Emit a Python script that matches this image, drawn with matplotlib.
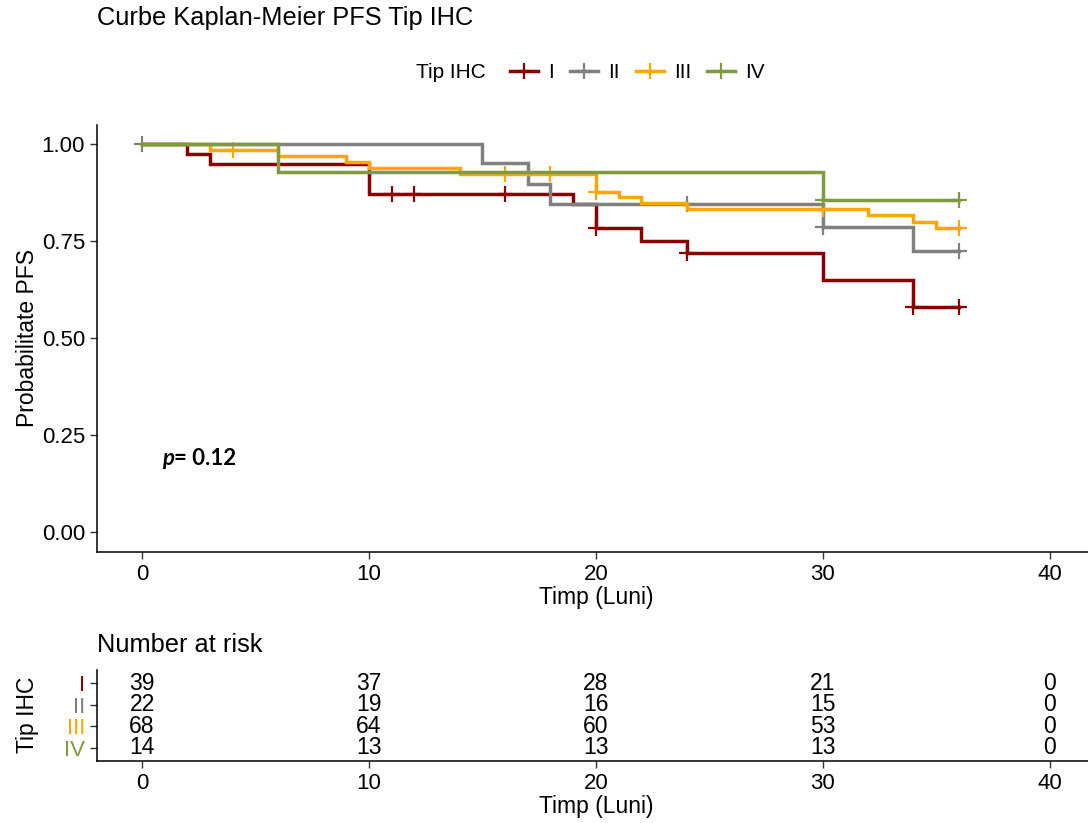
import matplotlib
matplotlib.use('Agg')
import matplotlib.pyplot as plt
import numpy as np
from matplotlib.lines import Line2D

plt.rcParams['font.family'] = ['Liberation Sans', 'DejaVu Sans']

# Data
# ----------------------------------------------------------------------------

groups = ['I', 'II', 'III', 'IV']
colors = ['#8B0000', '#808080', '#FFA500', '#7F9A3F']

times_i = [0, 2, 3, 10, 19, 20, 22, 24, 30, 34, 36]
surv_i = [1.0, 0.974, 0.949, 0.872, 0.845, 0.784, 0.750, 0.719, 0.649, 0.580, 0.580]
cens_i = [11, 12, 16, 20, 24, 34, 36]

times_ii = [0, 15, 17, 18, 30, 34, 36]
surv_ii = [1.0, 0.952, 0.897, 0.845, 0.786, 0.726, 0.726]
cens_ii = [0, 24, 30, 36]

times_iii = [0, 3, 6, 9, 10, 14, 20, 21, 22, 24, 32, 34, 35, 36]
surv_iii = [1.0, 0.985, 0.971, 0.955, 0.940, 0.924, 0.878, 0.865, 0.849, 0.833,
            0.818, 0.801, 0.784, 0.784]
cens_iii = [4, 16, 18, 20, 30, 36]

times_iv = [0, 6, 30, 36]
surv_iv = [1.0, 0.929, 0.857, 0.857]
cens_iv = [30, 36]

# number at risk
risk_times = [0, 10, 20, 30, 40]
risk_i = [39, 37, 28, 21, 0]
risk_ii = [22, 19, 16, 15, 0]
risk_iii = [68, 64, 60, 53, 0]
risk_iv = [14, 13, 13, 13, 0]

p_value = 0.12

curves = [(times_i, surv_i, cens_i), (times_ii, surv_ii, cens_ii),
          (times_iii, surv_iii, cens_iii), (times_iv, surv_iv, cens_iv)]
risks = [risk_i, risk_ii, risk_iii, risk_iv]

# Plot
# ----------------------------------------------------------------------------

W, H = 1088, 823
fig = plt.figure(figsize=(W / 100, H / 100), dpi=100)


def px_axes(left, top, right, bottom):
    return fig.add_axes([left / W, 1 - bottom / H, (right - left) / W, (bottom - top) / H])


def config(ax):
    for s in ['top', 'right']:
        ax.spines[s].set_visible(False)
    for s in ['left', 'bottom']:
        ax.spines[s].set_linewidth(1.1)
    ax.tick_params(length=5, width=1.0, labelsize=16, color='#333333', labelcolor='black')
    ax.set_xlim(-2, 42)
    ax.set_xticks([0, 10, 20, 30, 40])


ax = px_axes(96.7, 124.9, 1095, 551.7)
config(ax)
ax.set_ylim(-0.05, 1.05)
ax.set_yticks([0, 0.25, 0.5, 0.75, 1.0])
ax.set_yticklabels(['0.00', '0.25', '0.50', '0.75', '1.00'])

for (t, s, c), col in zip(curves, colors):
    ax.step(t, s, where='post', color=col, lw=2.5, solid_joinstyle='miter')
    idx = np.searchsorted(t, c, side='right') - 1
    ax.plot(c, np.array(s)[idx], ls='none', marker='+', ms=11, mew=1.6, color=col)

ax.set_xlabel('Timp (Luni)', fontsize=16.5, labelpad=1)
ax.set_ylabel('Probabilitate PFS', fontsize=16.5)
ax.yaxis.set_label_coords(39 / W, 1 - 338 / H, transform=fig.transFigure)

pt = ax.text(0.9, 0.19, 'p', style='italic', weight='bold', fontsize=16,
             family='Lato', va='center')
ax.annotate('= %.2f' % p_value, xy=(1, 0.5), xycoords=pt, va='center',
            weight='bold', fontsize=16, family='Lato')

fig.text(97 / W, 1 - 18 / H, 'Curbe Kaplan-Meier PFS Tip IHC', fontsize=18.3, va='center')

handles = [Line2D([], [], color=col, lw=2.5, marker='+', ms=11, mew=1.6) for col in colors]
fig.text(416 / W, 1 - 73 / H, 'Tip IHC', fontsize=15, va='center')
fig.legend(handles, groups, loc='center left', bbox_to_anchor=(510 / W, 1 - 73 / H),
           ncol=4, frameon=False, fontsize=15, handlelength=1.35, handletextpad=0.5,
           columnspacing=0.75, borderaxespad=0, borderpad=0)

# risk table
rt = px_axes(96.7, 670, 1095, 761)
config(rt)
rt.set_ylim(0.4, 4.6)
ypos = np.arange(len(groups), 0, -1)
rt.set_yticks(ypos)
rt.set_yticklabels(groups)
for lab, col in zip(rt.get_yticklabels(), colors):
    lab.set_color(col)
for y, r in zip(ypos, risks):
    for x, n in zip(risk_times, r):
        rt.text(x, y, str(n), ha='center', va='center', fontsize=16.5)
rt.set_xlabel('Timp (Luni)', fontsize=16.5, labelpad=1)
rt.set_ylabel('Tip IHC', fontsize=16.5)
rt.yaxis.set_label_coords(39 / W, 1 - 715 / H, transform=fig.transFigure)
fig.text(97 / W, 1 - 645 / H, 'Number at risk', fontsize=18.3, va='center')

fig.savefig('out.png', dpi=100)
